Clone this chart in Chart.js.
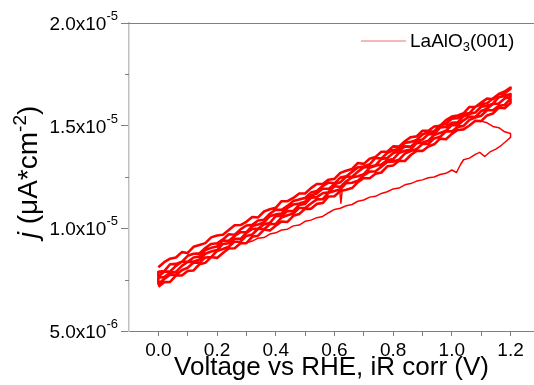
<!DOCTYPE html>
<html>
<head>
<meta charset="utf-8">
<script src="https://cdn.jsdelivr.net/npm/chart.js@4.4.1/dist/chart.umd.min.js"></script>
<style>
  html, body { margin: 0; padding: 0; background: #fff; }
  canvas { display: block; }
</style>
</head>
<body>
<canvas id="cvChart" width="534" height="385"></canvas>
<script>
// Voltage grid of the repeated sweeps (V vs RHE)
const V = [0, 0.02, 0.04, 0.06, 0.08, 0.1, 0.12, 0.14, 0.16, 0.18, 0.2, 0.22, 0.24, 0.26, 0.28, 0.3,
  0.32, 0.34, 0.36, 0.38, 0.4, 0.42, 0.44, 0.46, 0.48, 0.5, 0.52, 0.54, 0.56, 0.58, 0.6, 0.62, 0.64,
  0.66, 0.68, 0.7, 0.72, 0.74, 0.76, 0.78, 0.8, 0.82, 0.84, 0.86, 0.88, 0.9, 0.92, 0.94, 0.96, 0.98,
  1, 1.02, 1.04, 1.06, 1.08, 1.1, 1.12, 1.14, 1.16, 1.18, 1.2];

// current density of each sweep, in units of 1e-8
const J_UNIT = 1e-8;
const sweep1 = [715, 738, 739, 770, 770, 792, 795, 825, 832, 860, 856, 880, 902, 903, 927, 928, 959, 964, 994, 989,
  1013, 1033, 1031, 1061, 1070, 1095, 1095, 1119, 1123, 1155, 1156, 1182, 1188, 1196, 1225, 1245, 1244, 1266, 1272, 1302,
  1306, 1329, 1328, 1357, 1377, 1377, 1399, 1409, 1437, 1434, 1460, 1479, 1482, 1501, 1524, 1522, 1550, 1559, 1587, 1585, 1610];
const sweep2 = [730, 753, 774, 773, 796, 808, 834, 833, 858, 860, 890, 899, 910, 936, 935, 963, 970, 998, 996, 1020,
  1022, 1053, 1064, 1072, 1100, 1099, 1121, 1141, 1142, 1173, 1182, 1190, 1220, 1222, 1232, 1258, 1276, 1278, 1300, 1323,
  1325, 1334, 1364, 1376, 1386, 1411, 1411, 1438, 1446, 1472, 1472, 1494, 1499, 1528, 1540, 1548, 1575, 1575, 1597, 1601, 1632];
const sweep3 = [759, 763, 784, 788, 817, 836, 838, 849, 876, 887, 894, 924, 928, 949, 949, 978, 997, 999, 1019, 1027,
  1059, 1062, 1084, 1085, 1114, 1119, 1149, 1152, 1171, 1176, 1205, 1202, 1229, 1248, 1254, 1264, 1295, 1305, 1311, 1332,
  1337, 1367, 1378, 1384, 1415, 1418, 1427, 1455, 1465, 1475, 1503, 1502, 1526, 1545, 1543, 1571, 1582, 1606, 1608, 1632, 1640];
const sweep4 = [766, 789, 790, 817, 838, 837, 858, 863, 894, 905, 912, 941, 939, 963, 981, 981, 1011, 1019, 1029, 1059,
  1068, 1072, 1099, 1116, 1121, 1130, 1159, 1170, 1194, 1192, 1215, 1224, 1251, 1251, 1276, 1296, 1300, 1307, 1338, 1342,
  1366, 1377, 1399, 1398, 1423, 1433, 1458, 1460, 1491, 1494, 1514, 1516, 1546, 1557, 1564, 1592, 1596, 1607, 1639, 1645, 1654];
const sweep5 = [788, 792, 825, 827, 837, 866, 876, 878, 904, 924, 927, 946, 971, 969, 995, 1014, 1017, 1038, 1042, 1071,
  1091, 1090, 1109, 1133, 1141, 1148, 1174, 1182, 1206, 1223, 1219, 1247, 1254, 1275, 1297, 1301, 1312, 1343, 1340, 1367,
  1380, 1388, 1416, 1421, 1430, 1457, 1470, 1473, 1502, 1509, 1534, 1536, 1557, 1561, 1592, 1604, 1609, 1632, 1654, 1657, 1680];
const sweep6 = [810, 835, 852, 858, 884, 880, 910, 919, 928, 956, 965, 969, 992, 1015, 1016, 1032, 1055, 1053, 1082, 1093,
  1100, 1132, 1132, 1148, 1170, 1170, 1196, 1216, 1216, 1237, 1241, 1270, 1280, 1289, 1318, 1314, 1339, 1348, 1373, 1373,
  1399, 1398, 1424, 1444, 1448, 1475, 1475, 1496, 1500, 1527, 1544, 1550, 1560, 1591, 1591, 1612, 1632, 1629, 1655, 1666, 1686];

// first (lower) sweep and its turn at 1.2 V
const firstV = [0.3, 0.32, 0.34, 0.36, 0.38, 0.4, 0.42, 0.44, 0.46, 0.48, 0.5, 0.52, 0.54, 0.56, 0.58, 0.6, 0.62, 0.64,
  0.66, 0.68, 0.7, 0.72, 0.74, 0.76, 0.78, 0.8, 0.82, 0.84, 0.86, 0.88, 0.9, 0.92, 0.94, 0.96, 0.98, 1,
  1.016, 1.03, 1.04, 1.06, 1.08, 1.095, 1.112, 1.13, 1.15, 1.165, 1.18, 1.2, 1.2, 1.18, 1.16, 1.14, 1.12, 1.1];
const firstJ = [930, 938, 952, 955, 972, 978, 992, 996, 1012, 1016, 1034, 1040, 1052, 1058, 1076, 1092, 1098, 1110,
  1116, 1132, 1138, 1152, 1156, 1170, 1178, 1192, 1196, 1212, 1218, 1230, 1236, 1246, 1250, 1262, 1268, 1284,
  1272, 1312, 1334, 1342, 1360, 1370, 1350, 1372, 1386, 1400, 1418, 1443, 1462, 1470, 1490, 1496, 1514, 1522];

// the single glitch near 0.62 V
const spikeV = [0.618, 0.622, 0.626];
const spikeJ = [1185, 1122, 1180];

// axes
const X_TICKS = [0, 0.2, 0.4, 0.6, 0.8, 1.0, 1.2];
const X_MINOR = [0.1, 0.3, 0.5, 0.7, 0.9, 1.1];
const Y_TICKS = [5e-6, 1e-5, 1.5e-5, 2e-5];
const Y_MANT = ['5.0', '1.0', '1.5', '2.0'];
const Y_EXP = ['-6', '-5', '-5', '-5'];
const Y_MINOR = [7.5e-6, 1.25e-5, 1.75e-5];

const FONT = '"Liberation Sans", Arial, sans-serif';
const RED = '#ff0000';

// forward / backward sweeps joined end to end like the real scan
const cvPoints = [];
[sweep1, sweep2, sweep3, sweep4, sweep5, sweep6].forEach((s, k) => {
    const idx = V.map((_, i) => i);
    if (k % 2) idx.reverse();
    idx.forEach(i => cvPoints.push({ x: V[i], y: s[i] * J_UNIT }));
});
const firstPoints = firstV.map((v, i) => ({ x: v, y: firstJ[i] * J_UNIT }));
const spikePoints = spikeV.map((v, i) => ({ x: v, y: spikeJ[i] * J_UNIT }));

const lineStyle = {
    borderColor: RED,
    borderWidth: 1.5,
    pointRadius: 0,
    fill: false,
    tension: 0,
    borderJoinStyle: 'round'
};

// texts the library cannot set with super/subscripts
const decor = {
    id: 'decor',
    afterDraw(chart) {
        const { ctx, chartArea: a, scales: { y } } = chart;
        ctx.save();

        // top frame line
        ctx.strokeStyle = '#808080';
        ctx.lineWidth = 1;
        ctx.beginPath();
        ctx.moveTo(a.left - 8, a.top + 0.5);
        ctx.lineTo(a.right, a.top + 0.5);
        // minor y ticks
        Y_MINOR.forEach(v => {
            const py = Math.round(y.getPixelForValue(v)) + 0.5;
            ctx.moveTo(a.left - 4, py);
            ctx.lineTo(a.left, py);
        });
        ctx.stroke();

        // y tick labels  2.0x10^-5
        ctx.fillStyle = '#000';
        ctx.textAlign = 'right';
        ctx.textBaseline = 'alphabetic';
        Y_TICKS.forEach((v, i) => {
            const py = y.getPixelForValue(v);
            ctx.font = '13px ' + FONT;
            const ew = ctx.measureText(Y_EXP[i]).width;
            ctx.fillText(Y_EXP[i], 118, py - 3);
            ctx.font = '19px ' + FONT;
            ctx.fillText(Y_MANT[i] + 'x10', 118 - ew, py + 7);
        });

        // y title  j (µA*cm^-2)
        const parts = [
            { t: 'j', f: 'italic 28px ' + FONT, dy: 0 },
            { t: ' (\u03bcA*cm', f: '28px ' + FONT, dy: 0 },
            { t: '-2', f: '19px ' + FONT, dy: -11 },
            { t: ')', f: '28px ' + FONT, dy: 0 }
        ];
        ctx.translate(37, 172);
        ctx.rotate(-Math.PI / 2);
        ctx.textAlign = 'left';
        let total = 0;
        parts.forEach(p => { ctx.font = p.f; p.w = ctx.measureText(p.t).width; total += p.w; });
        let px = -total / 2;
        parts.forEach(p => { ctx.font = p.f; ctx.fillText(p.t, px, p.dy); px += p.w; });
        ctx.setTransform(1, 0, 0, 1, 0, 0);

        // legend  LaAlO3(001)
        ctx.strokeStyle = '#f07070';
        ctx.lineWidth = 1;
        ctx.beginPath();
        ctx.moveTo(361, 41);
        ctx.lineTo(406, 41);
        ctx.stroke();
        let lx = 410;
        ctx.font = '19px ' + FONT;
        ctx.fillText('LaAlO', lx, 47);
        lx += ctx.measureText('LaAlO').width;
        ctx.font = '13px ' + FONT;
        ctx.fillText('3', lx, 51);
        lx += ctx.measureText('3').width;
        ctx.font = '19px ' + FONT;
        ctx.fillText('(001)', lx, 47);

        ctx.restore();
    }
};

new Chart(document.getElementById('cvChart'), {
    type: 'line',
    data: {
        datasets: [
            { ...lineStyle, label: 'LaAlO3(001)', data: cvPoints, borderWidth: 2.6 },
            { ...lineStyle, label: 'first', data: firstPoints },
            { ...lineStyle, label: 'spike', data: spikePoints }
        ]
    },
    options: {
        responsive: false,
        animation: false,
        devicePixelRatio: 1,
        layout: { padding: { top: 23, left: 0, right: 0, bottom: 0 } },
        plugins: {
            legend: { display: false },
            tooltip: { enabled: false }
        },
        scales: {
            x: {
                type: 'linear',
                min: -0.1,
                max: 1.28,
                afterBuildTicks: s => { s.ticks = X_TICKS.concat(X_MINOR).sort((a, b) => a - b).map(v => ({ value: v })); },
                afterFit: s => { s.height = 54; },
                ticks: {
                    autoSkip: false,
                    maxRotation: 0,
                    padding: 3,
                    color: '#000',
                    font: { family: FONT, size: 19 },
                    callback: v => X_TICKS.includes(v) ? v.toFixed(1) : ''
                },
                grid: { drawOnChartArea: false, tickLength: 5, tickColor: '#808080' },
                border: { color: '#808080', width: 1 },
                title: {
                    display: true,
                    text: 'Voltage vs RHE, iR corr (V)',
                    color: '#000',
                    font: { family: FONT, size: 26 },
                    padding: { top: 0, bottom: 2 }
                }
            },
            y: {
                type: 'linear',
                min: 5e-6,
                max: 2e-5,
                afterBuildTicks: s => { s.ticks = Y_TICKS.map(v => ({ value: v })); },
                afterFit: s => { s.width = 129; },
                ticks: { display: false },
                grid: { drawOnChartArea: false, tickLength: 8, tickColor: '#808080' },
                border: { color: '#c0c0c0', width: 1.5 }
            }
        }
    },
    plugins: [decor]
});
</script>
</body>
</html>
